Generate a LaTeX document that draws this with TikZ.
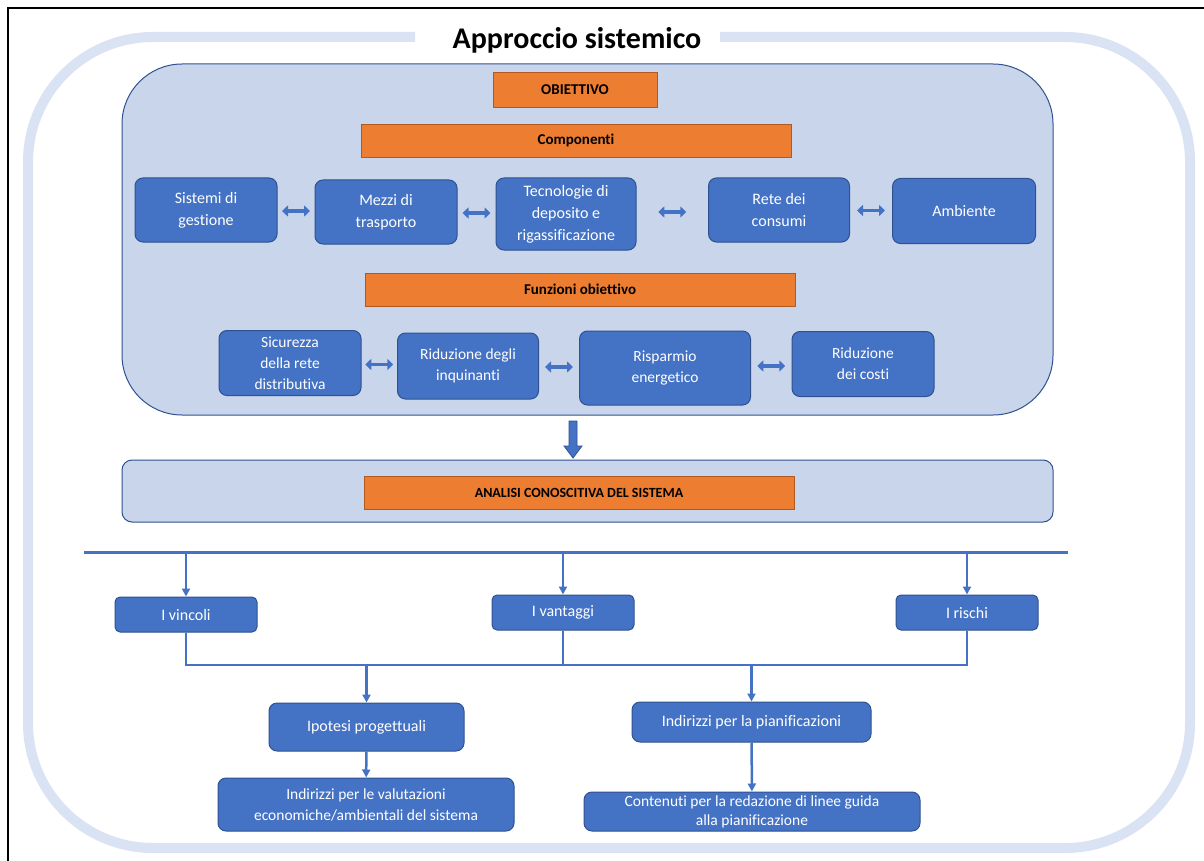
\documentclass[tikz,border=0pt]{standalone}
\usepackage{fontspec}
\setmainfont{Carlito}[Ligatures=NoCommon]
\definecolor{boxblue}{RGB}{68, 114, 196}
\definecolor{boxedge}{RGB}{47, 82, 143}
\definecolor{labelorange}{RGB}{237, 125, 49}
\definecolor{labeledge}{RGB}{174, 90, 33}
\definecolor{panelblue}{RGB}{201, 213, 235}
\definecolor{ringblue}{RGB}{218, 227, 243}
\usetikzlibrary{arrows.meta, positioning, calc}
\newcommand{\twoway}[2]{\draw[link] ($(#1.east)!0.5!(#2.west)+(-14,0)$) -- ($(#1.east)!0.5!(#2.west)+(14,0)$);}

\begin{document}
\begin{tikzpicture}[x=1pt, y=-1pt,
    comp/.style={draw=boxedge, fill=boxblue, text=white, rounded corners=8pt, align=center,
      inner sep=2pt, font=\fontsize{16}{22}\selectfont, line width=1pt},
    func/.style={comp, font=\fontsize{15.5}{21}\selectfont},
    label/.style={draw=labeledge, fill=labelorange, align=center, inner sep=2pt,
      font=\fontsize{15}{18}\selectfont\bfseries, line width=0.8pt},
    panel/.style={draw=boxedge, fill=panelblue, line width=1pt},
    link/.style={boxblue, line width=3.5pt, {Triangle[length=6pt,width=11pt]}-{Triangle[length=6pt,width=11pt]}},
    flow/.style={boxblue, line width=2.5pt, -{Triangle[length=8pt,width=8pt]}},
    ring/.style={ringblue, line width=10pt}]
  \useasboundingbox (0,0) rectangle (1204,861);
  \fill[white] (0,0) rectangle (1204,861);
  \draw[line width=1.5pt] (8,861) -- (8,8) -- (1204,8);

  % outer frame and title
  \draw[ring, rounded corners=125pt] (415,37) -- (28,37) -- (28,848) -- (1190,848) -- (1190,37) -- (720,37);
  \node[font=\fontsize{30}{34}\selectfont\bfseries] (title) at (577,40) {Approccio sistemico};

  % objective panel
  \node[panel, rounded corners=60pt, minimum width=931pt, minimum height=351pt] (main) at (587.5,239.5) {};
  \node[label, minimum width=164pt, minimum height=35pt] (obj) at (575,89.5) {OBIETTIVO};
  \node[label, minimum width=430pt, minimum height=33pt] (compo) at (576,140.5) {Componenti};

  \node[comp, minimum width=142pt, minimum height=64pt] (sis) at (206,210) {Sistemi di\\gestione};
  \node[comp, minimum width=142pt, minimum height=64pt] (mez) at (386,212) {Mezzi di\\trasporto};
  \node[comp, minimum width=140pt, minimum height=72pt] (tec) at (566,214) {Tecnologie di\\deposito e\\rigassificazione};
  \node[comp, minimum width=141pt, minimum height=64pt] (ret) at (779,210) {Rete dei\\consumi};
  \node[comp, minimum width=143pt, minimum height=65pt] (amb) at (964,211) {Ambiente};

  \twoway{sis}{mez}
  \twoway{mez}{tec}
  \twoway{tec}{ret}
  \twoway{ret}{amb}

  \node[label, minimum width=430pt, minimum height=33pt] (funz) at (580,289.5) {Funzioni obiettivo};

  \node[func, minimum width=142pt, minimum height=65pt] (sic) at (290,363) {Sicurezza\\della rete\\distributiva};
  \node[func, minimum width=141pt, minimum height=66pt] (rid) at (468,366) {Riduzione degli\\inquinanti};
  \node[func, minimum width=171pt, minimum height=74pt] (ris) at (665,368) {Risparmio\\energetico};
  \node[func, minimum width=142pt, minimum height=65pt] (cos) at (863,364) {Riduzione\\dei costi};

  \twoway{sic}{rid}
  \twoway{rid}{ris}
  \twoway{ris}{cos}

  % analysis
  \node[panel, rounded corners=10pt, minimum width=931pt, minimum height=62pt] (ancont) at (587.5,491) {};
  \node[label, minimum width=430pt, minimum height=33pt, font=\fontsize{14}{17}\selectfont\bfseries] (anal) at (579,492.5) {ANALISI CONOSCITIVA DEL SISTEMA};

  \draw[boxedge, fill=boxblue, line width=0.8pt] (569,421) -- (577,421) -- (577,446) -- (582,446) -- (573,458) -- (564,446) -- (569,446) -- cycle;

  % outcomes
  \coordinate (hl) at (84,552);
  \coordinate (hr) at (1068,552);
  \draw[boxblue, line width=3pt] (hl) -- (hr);

  \node[comp, minimum width=142pt, minimum height=35pt, rounded corners=5pt] (vin) at (186,614.5) {I vincoli};
  \node[comp, minimum width=142pt, minimum height=35pt, rounded corners=5pt] (van) at (563,612.5) {I vantaggi};
  \node[comp, minimum width=142pt, minimum height=35pt, rounded corners=5pt] (rsc) at (967,612.5) {I rischi};

  \draw[flow] (vin.north |- hl) -- (vin.north);
  \draw[flow] (van.north |- hl) -- (van.north);
  \draw[flow] (rsc.north |- hl) -- (rsc.north);

  \node[comp, minimum width=195pt, minimum height=48pt] (ipo) at (366.5,727) {Ipotesi progettuali};
  \node[comp, minimum width=239pt, minimum height=40pt] (ind) at (751.5,722) {Indirizzi per la pianificazioni};
  \node[comp, minimum width=296pt, minimum height=53pt, font=\fontsize{15.5}{21}\selectfont] (val) at (366,804.5) {Indirizzi per le valutazioni\\economiche/ambientali del sistema};
  \node[comp, minimum width=336pt, minimum height=39pt, font=\fontsize{15.5}{19}\selectfont] (cont) at (752,811.5) {Contenuti per la redazione di linee guida\\alla pianificazione};

  \coordinate (jn) at (0,665);
  \draw[boxblue, line width=2.5pt] (vin.south) |- (rsc.south |- jn) -- (rsc.south);
  \draw[boxblue, line width=2.5pt] (van.south) -- (van.south |- jn);
  \draw[flow] (ipo.north |- jn) -- (ipo.north);
  \draw[flow] (ind.north |- jn) -- (ind.north);
  \draw[flow] (ipo) -- (val);
  \draw[flow] (ind) -- (cont);
\end{tikzpicture}
\end{document}
